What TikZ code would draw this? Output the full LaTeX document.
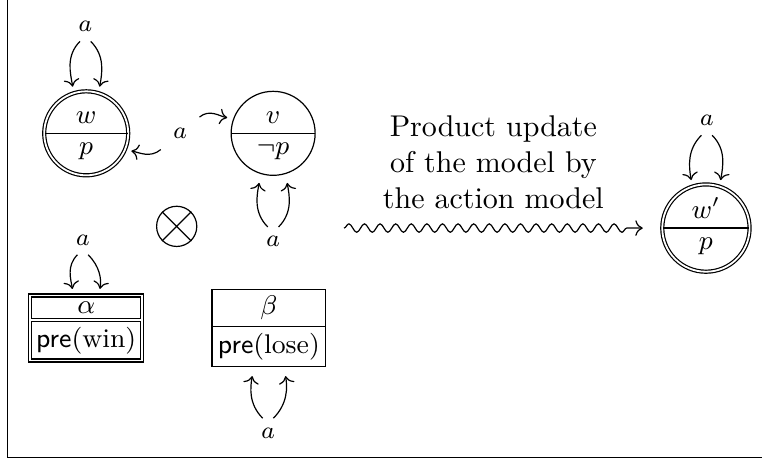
\documentclass[tikz,border=0pt]{standalone}
\usepackage{amsmath,amssymb}
\usepackage{tikz}
\usetikzlibrary{shapes.multipart,decorations.pathmorphing,arrows.meta}

\begin{document}
\begin{tikzpicture}[>={Computer Modern Rightarrow},
    world_node/.style={circle split,draw,inner xsep=1pt,inner ysep=3pt,minimum size=28pt,font=\small},
    event_node/.style={rectangle split,rectangle split parts=2,draw,inner sep=2pt,font=\small},
    agent_lbl/.style={font=\footnotesize,inner sep=3pt},
    wave_arrow/.style={->,decorate,decoration={snake,amplitude=1.4pt,segment length=5.2pt,post length=1.5mm}}]
        \useasboundingbox (0,0) rectangle (8.927,5.412);
        \draw (0.085,0.053) rectangle (9.2,5.425);

	    \node[world_node,double] (w) at (1.01, 3.85) {$w$ \nodepart{lower} $p$};
	    \node[world_node] (v) at (3.2, 3.85) {$v$ \nodepart{lower} $\neg p$};
	    \node[world_node,double] (w2) at (8.27, 2.74) {$w'$ \nodepart{lower} $p$};
	    \node[event_node,double] (alpha) at (1.01, 1.57) {$\alpha$ \nodepart{two} \textsf{pre}(win)};
	    \node[event_node] (beta) at (3.15, 1.57) {$\beta$ \nodepart{two} \textsf{pre}(lose)};
	    \node[circle,draw,inner sep=0pt,minimum size=13.4pt] (ot) at (2.07, 2.76) {};

	    \node[agent_lbl] (lw) at (1.0, 5.1) {$a$};
	    \node[agent_lbl] (lv) at (3.2, 2.58) {$a$};
	    \node[agent_lbl,inner sep=4pt] (wv) at (2.11, 3.85) {$a$};
	    \node[agent_lbl] (la) at (0.97, 2.6) {$a$};
	    \node[agent_lbl] (lb) at (3.14, 0.34) {$a$};
	    \node[agent_lbl] (lw2) at (8.28, 4.0) {$a$};

	    \coordinate (ws) at (4.03, 2.74);
	    \coordinate (we) at (7.53, 2.74);

	    \draw (ot.45) -- (ot.225) (ot.135) -- (ot.-45);

	    \draw[->,shorten >=2pt] (lw.-110) to[out=-135,in=100] (w.107);
	    \draw[->,shorten >=2pt] (lw.-70) to[out=-45,in=80] (w.73);
	    \draw[->,shorten >=3pt] (lv.110) to[out=135,in=-100] (v.-107);
	    \draw[->,shorten >=3pt] (lv.70) to[out=45,in=-80] (v.-73);
	    \draw[->,shorten >=2pt] (wv) to[out=40,in=170] (v.160);
	    \draw[->,shorten >=2pt] (wv) to[out=220,in=-10] (w.-23);
	    \draw[->,shorten >=2pt] (la.-110) to[out=-135,in=100] (alpha.111);
	    \draw[->,shorten >=2pt] (la.-70) to[out=-45,in=80] (alpha.69);
	    \draw[->,shorten >=3pt] (lb.110) to[out=135,in=-100] (beta.-111);
	    \draw[->,shorten >=3pt] (lb.70) to[out=45,in=-80] (beta.-69);
	    \draw[->,shorten >=2pt] (lw2.-110) to[out=-135,in=100] (w2.108);
	    \draw[->,shorten >=2pt] (lw2.-70) to[out=-45,in=80] (w2.72);

	    \draw[wave_arrow] (ws) -- node[above=3pt,align=center] (upd) {Product update\\of the model by\\the action model} (we);
        \end{tikzpicture}
\end{document}
